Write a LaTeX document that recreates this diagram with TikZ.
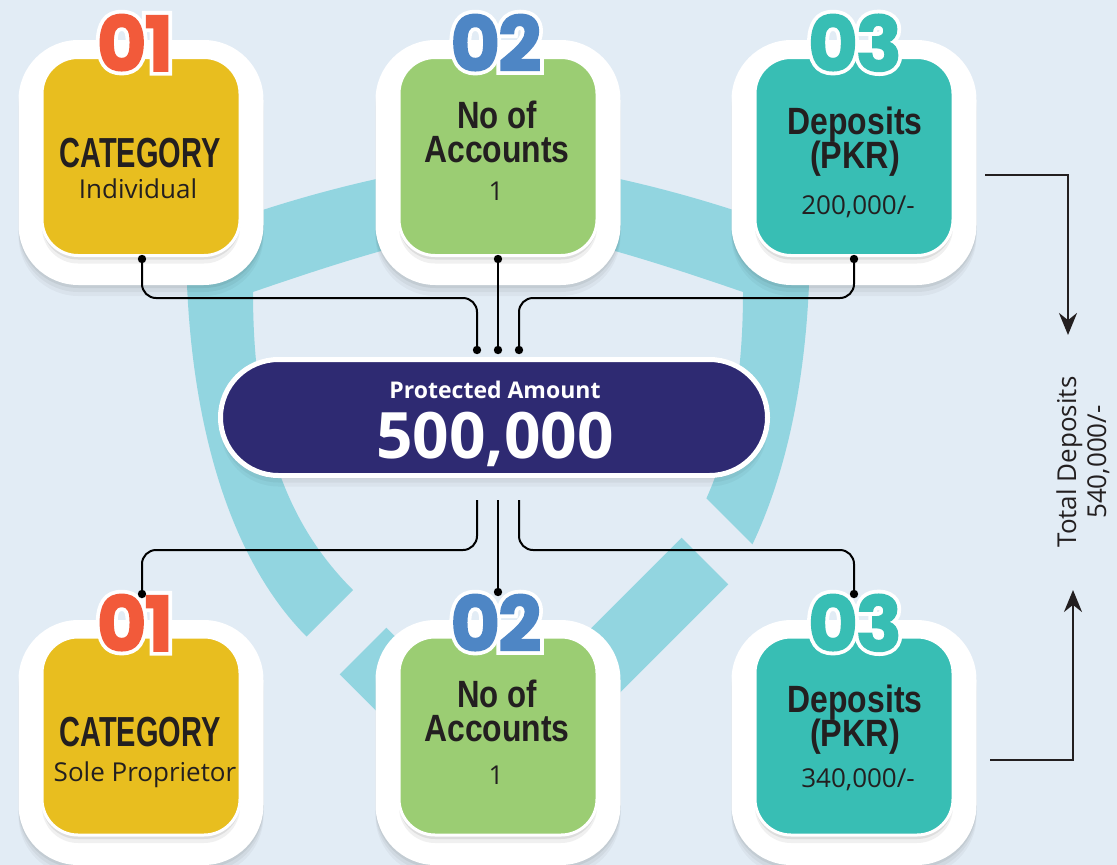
\documentclass[tikz,border=0pt]{standalone}
\usepackage{fontspec}
\setmainfont{Open Sans}
\newfontfamily\headfont{Liberation Sans}
\newfontfamily\numc{Poppins}[BoldFeatures={FakeBold=2}]
\newfontfamily\numw{Poppins}[BoldFeatures={FakeBold=12}]
\usetikzlibrary{shadows,calc,arrows.meta}
\definecolor{bgc}{HTML}{E2ECF5}
\definecolor{shieldc}{HTML}{92D5E0}
\definecolor{yellowc}{HTML}{E8BE1F}
\definecolor{greenc}{HTML}{9BCD73}
\definecolor{tealc}{HTML}{38BEB4}
\definecolor{navyc}{HTML}{2E2A72}
\definecolor{orangec}{HTML}{F25A3A}
\definecolor{bluec}{HTML}{4E86C5}
\definecolor{darkc}{HTML}{231F20}
\newcommand{\outlinednum}[4]{%
  \node[numout] (#1w) at (#2) {#4};
  \node[numsty, text=#3] (#1) at (#2) {#4};}
\begin{document}
\begin{tikzpicture}[x=1pt,y=-1pt,
  fshadow/.style={general shadow={fill=black,opacity=0.035,shadow yshift=-11pt},
                  general shadow={fill=black,opacity=0.045,shadow yshift=-7pt},
                  general shadow={fill=black,opacity=0.06,shadow yshift=-3pt}},
  cshadow/.style={general shadow={fill=black,opacity=0.06,shadow yshift=-8pt},
                  general shadow={fill=black,opacity=0.08,shadow yshift=-4pt}},
  frame/.style={fill=white, rounded corners=60pt, minimum width=245pt, minimum height=245pt, inner sep=0pt, fshadow},
  card/.style={draw=white, line width=3pt, rounded corners=36pt, minimum width=198pt, minimum height=198pt, inner sep=0pt, cshadow},
  pill/.style={fill=navyc, draw=white, line width=5pt, rounded corners=58pt, minimum width=547pt, minimum height=116pt, inner sep=0pt, fshadow},
  numsty/.style={font=\numc\bfseries\fontsize{76}{76}\selectfont, anchor=base, inner sep=0pt},
  numout/.style={font=\numw\bfseries\fontsize{76}{76}\selectfont, text=white, anchor=base, inner sep=0pt},
  head/.style={font=\headfont\bfseries\fontsize{38}{38}\selectfont, text=darkc, anchor=base, inner sep=0pt},
  bighead/.style={font=\headfont\bfseries\fontsize{42}{42}\selectfont, text=darkc, anchor=base, inner sep=0pt},
  val/.style={font=\fontsize{26}{28}\selectfont, text=darkc, anchor=base, inner sep=0pt},
  conn/.style={line width=2pt, draw=black, rounded corners=14pt},
  dot/.style={fill=black},
  arr/.style={line width=2.5pt, draw=darkc, -{Stealth[length=22pt,width=18pt]}},
  shieldband/.style={fill=shieldc, even odd rule},
  check/.style={draw=shieldc, line width=66pt, line join=miter}
]
\fill[bgc] (0,0) rectangle (1117,865);
\useasboundingbox (0,0) rectangle (1117,865);

% shield
\begin{scope}
\clip (0,943) -- (575.5,367.5) -- (1117,909) -- (1117,0) -- (0,0) -- cycle;
\fill[shieldband]
 (186,238) .. controls (290,195) and (420,165) .. (498,160)
   .. controls (576,165) and (706,195) .. (810,238)
   .. controls (810,420) and (766,560) .. (689,637) -- (498,828) -- (307,637)
   .. controls (230,560) and (186,420) .. (186,238) -- cycle
 (253,292) .. controls (340,262) and (440,230) .. (498,228)
   .. controls (556,230) and (656,262) .. (743,292)
   .. controls (743,440) and (706,527) .. (643,590) -- (498,735) -- (353,590)
   .. controls (290,527) and (253,440) .. (253,292) -- cycle;
\end{scope}
\draw[check] (363,651) -- (489,777) -- (705,561);

% frames and cards, top row
\node[frame] (f1) at (141,162.5) {};
\node[frame] (f2) at (498,162.5) {};
\node[frame] (f3) at (854,162.5) {};
\node[card, fill=yellowc] (c1) at (141,156.5) {};
\node[card, fill=greenc] (c2) at (498,156.5) {};
\node[card, fill=tealc] (c3) at (854,156.5) {};
% bottom row
\node[frame] (g1) at (141,742.5) {};
\node[frame] (g2) at (498,742.5) {};
\node[frame] (g3) at (854,742.5) {};
\node[card, fill=yellowc] (d1) at (141,736) {};
\node[card, fill=greenc] (d2) at (498,736) {};
\node[card, fill=tealc] (d3) at (854,736) {};

% numbers
\coordinate (n1) at (135,71);
\coordinate (n2) at (496,71);
\coordinate (n3) at (855,71);
\coordinate (m1) at (135,651);
\coordinate (m2) at (496,651);
\coordinate (m3) at (855,651);
\outlinednum{num1}{n1}{orangec}{0\kern-2pt1}
\outlinednum{num2}{n2}{bluec}{0\kern-2pt2}
\outlinednum{num3}{n3}{tealc}{0\kern-2pt3}
\outlinednum{num4}{m1}{orangec}{0\kern-2pt1}
\outlinednum{num5}{m2}{bluec}{0\kern-2pt2}
\outlinednum{num6}{m3}{tealc}{0\kern-2pt3}

% texts top row
\node[bighead] (h1) at (140,167) {\scalebox{0.69}[1]{CATEGORY}};
\node[val] (v1) at (138,198) {Individual};
\node[head] (h2a) at (497,128) {\scalebox{0.82}[1]{No of}};
\node[head] (h2b) at (497,162) {\scalebox{0.84}[1]{Accounts}};
\node[val] (v2) at (496,200) {1};
\node[head] (h3a) at (855,134) {\scalebox{0.84}[1]{Deposits}};
\node[head] (h3b) at (855,168) {\scalebox{0.85}[1]{(PKR)}};
\node[val] (v3) at (858,214) {200,000/-};
% texts bottom row
\node[bighead] (k1) at (140,746) {\scalebox{0.69}[1]{CATEGORY}};
\node[val] (w1) at (145,781) {Sole Proprietor};
\node[head] (k2a) at (497,707) {\scalebox{0.82}[1]{No of}};
\node[head] (k2b) at (497,741) {\scalebox{0.84}[1]{Accounts}};
\node[val] (w2) at (496,784) {1};
\node[head] (k3a) at (855,712) {\scalebox{0.84}[1]{Deposits}};
\node[head] (k3b) at (855,746) {\scalebox{0.85}[1]{(PKR)}};
\node[val] (w3) at (858,787) {340,000/-};

% connectors top
\coordinate (t1) at (142,259);
\coordinate (t2) at (498,259);
\coordinate (t3) at (854,259);
\coordinate (p1) at (477,350);
\coordinate (p2) at (498,350);
\coordinate (p3) at (519,350);
\coordinate (ytop) at (0,298);
\draw[conn] (t1) |- (p1|-ytop) -- (p1);
\draw[conn] (t2) -- (p2);
\draw[conn] (t3) |- (p3|-ytop) -- (p3);
\foreach \c in {t1,t2,t3,p1,p2,p3} \fill[dot] (\c) circle (4.2);

% connectors bottom
\coordinate (q1) at (477,500);
\coordinate (q2) at (498,500);
\coordinate (q3) at (519,500);
\coordinate (b1) at (142,594);
\coordinate (b2) at (498,592);
\coordinate (b3) at (854,594);
\coordinate (ybot) at (0,550);
\draw[conn] (q1) -- (q1|-ybot) -| (b1);
\draw[conn] (q2) -- (b2);
\draw[conn] (q3) -- (q3|-ybot) -| (b3);
\foreach \c in {b1,b2,b3} \fill[dot] (\c) circle (4.2);

% pill
\node[pill] (pill) at (494,417.5) {};
\node[font=\bfseries\fontsize{23}{23}\selectfont, text=white, anchor=base, inner sep=0pt] (pa) at (495,398) {Protected Amount};
\node[font=\bfseries\fontsize{64}{64}\selectfont, text=white, anchor=base, inner sep=0pt] (amt) at (495,458) {500,000};

% right arrows and total
\coordinate (r1) at (985,175);
\coordinate (r1e) at (1068,335);
\coordinate (r2) at (990,760);
\coordinate (r2e) at (1073,590);
\draw[arr] (r1) -| (r1e);
\draw[arr] (r2) -| (r2e);
\node[rotate=90, align=center, text=darkc, font=\fontsize{26}{30}\selectfont, inner sep=0pt] (tot) at (1083,462) {Total Deposits\\540,000/-};
\end{tikzpicture}
\end{document}
